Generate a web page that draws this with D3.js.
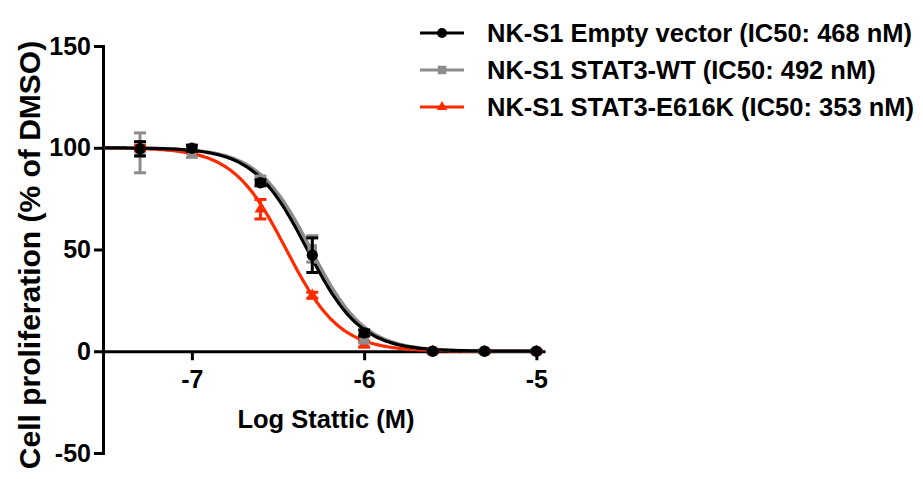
<!DOCTYPE html>
<html>
<head>
<meta charset="utf-8">
<script src="https://cdn.jsdelivr.net/npm/d3@7"></script>
<style>
  body { margin: 0; background: #fff; }
  text { font-family: "Liberation Sans", Arial, sans-serif; font-weight: bold; }
</style>
</head>
<body>
<div id="chart"></div>
<script>
// log concentration of Stattic (M)
const logConc = [-7.301, -7, -6.602, -6.301, -6, -5.602, -5.301, -5];

// series values (% of DMSO) and error
const emptyVals = [99.5, 99.8, 82.8, 47.2, 9.0, 0, 0, 0];
const emptyErr  = [3.5, 1.5, 1.5, 8.5, 1.5, 0.5, 0.5, 0.5];
const wtVals    = [97.5, 97.3, 84.5, 50.3, 6.0, 0, 0, 0];
const wtErr     = [9.8, 2.0, 1.5, 6.5, 2.0, 0.5, 0.5, 0.5];
const mutVals   = [99.8, 98.5, 69.8, 27.5, 3.5, 0, 0, 0];
const mutErr    = [1.5, 1.0, 4.8, 1.5, 1.5, 0.5, 0.5, 0.5];

// fit parameters (IC50 in nM from legend)
const seriesNames = ["NK-S1 Empty vector (IC50: 468 nM)", "NK-S1 STAT3-WT (IC50: 492 nM)", "NK-S1 STAT3-E616K (IC50: 353 nM)"];
const ic50nM = [468, 492, 353];
const hillSlope = [2.8, 2.8, 2.8];

const xTicks = [-7, -6, -5];
const yTicks = [-50, 0, 50, 100, 150];

const colors = ["#000000", "#8c8c8c", "#ff2a00"];
const symbols = [d3.symbolCircle, d3.symbolSquare, d3.symbolTriangle];
const symSizes = [100, 90, 60];

const series = [
  { vals: emptyVals, err: emptyErr },
  { vals: wtVals, err: wtErr },
  { vals: mutVals, err: mutErr }
].map((s, i) => ({ ...s, name: seriesNames[i], color: colors[i], symbol: symbols[i], size: symSizes[i], logIC50: Math.log10(ic50nM[i] * 1e-9), hill: hillSlope[i] }));

const svgWidth = 923, svgHeight = 479;

const svg = d3.select("#chart").append("svg")
  .attr("width", svgWidth)
  .attr("height", svgHeight);

const x = d3.scaleLinear().domain([-7.516, -4.95]).range([103, 545]);
const y = d3.scaleLinear().domain([-50, 150]).range([453, 46]);

// axes
const xAxis = svg.append("g")
  .attr("transform", `translate(0,${y(0)})`)
  .call(d3.axisBottom(x).tickValues(xTicks).tickSize(9).tickSizeOuter(0).tickPadding(10).tickFormat(d3.format("d")));

const yAxis = svg.append("g")
  .attr("transform", `translate(${x.range()[0]},0)`)
  .call(d3.axisLeft(y).tickValues(yTicks).tickSize(9).tickSizeOuter(0).tickPadding(3).tickFormat(d => d));

[xAxis, yAxis].forEach(g => {
  g.selectAll("path, line").attr("stroke", "#000").attr("stroke-width", 3);
  g.selectAll("text").attr("fill", "#000").style("font-size", "25px");
});
yAxis.select(".domain").attr("stroke-linecap", "square");
xAxis.selectAll("text").text(d => "-" + Math.abs(d));
yAxis.selectAll("text").text(d => d < 0 ? "-" + Math.abs(d) : d);

// axis titles
svg.append("text")
  .attr("x", 326).attr("y", 428)
  .attr("text-anchor", "middle")
  .style("font-size", "25.5px")
  .text("Log Stattic (M)");

svg.append("text")
  .attr("transform", `translate(40,255) rotate(-90)`)
  .attr("text-anchor", "middle")
  .style("font-size", "30px")
  .text("Cell proliferation (% of DMSO)");

// fitted curves
const curveX = d3.range(x.domain()[0] + 0.01, -4.999, 0.01);
const line = d3.line().x(d => x(d[0])).y(d => y(d[1]));

const drawOrder = [2, 1, 0];
drawOrder.forEach(i => {
  const s = series[i];
  const pts = curveX.map(v => [v, 100 / (1 + Math.pow(10, s.hill * (v - s.logIC50)))]);
  svg.append("path")
    .datum(pts)
    .attr("fill", "none")
    .attr("stroke", s.color)
    .attr("stroke-width", 3.2)
    .attr("d", line);
});

// error bars and points
drawOrder.forEach(i => {
  const s = series[i];
  const g = svg.append("g");
  s.vals.forEach((v, j) => {
    const cx = x(logConc[j]);
    const top = y(v + s.err[j]), bot = y(v - s.err[j]);
    g.append("line").attr("x1", cx).attr("x2", cx).attr("y1", top).attr("y2", bot)
      .attr("stroke", s.color).attr("stroke-width", 3);
    [top, bot].forEach(yy => {
      g.append("line").attr("x1", cx - 6).attr("x2", cx + 6).attr("y1", yy).attr("y2", yy)
        .attr("stroke", s.color).attr("stroke-width", 3);
    });
    g.append("path")
      .attr("transform", `translate(${cx},${y(v)})`)
      .attr("d", d3.symbol(s.symbol, s.size)())
      .attr("fill", s.color);
  });
});

// legend
const legend = svg.append("g");
series.forEach((s, i) => {
  const ly = 33 + i * 37;
  legend.append("line").attr("x1", 420).attr("x2", 464).attr("y1", ly).attr("y2", ly)
    .attr("stroke", s.color).attr("stroke-width", 3.2);
  legend.append("path")
    .attr("transform", `translate(442,${ly})`)
    .attr("d", d3.symbol(s.symbol, s.size * 0.8)())
    .attr("fill", s.color);
  legend.append("text")
    .attr("x", 487).attr("y", ly + 8.5)
    .style("font-size", "25.5px")
    .text(s.name);
});
</script>
</body>
</html>
